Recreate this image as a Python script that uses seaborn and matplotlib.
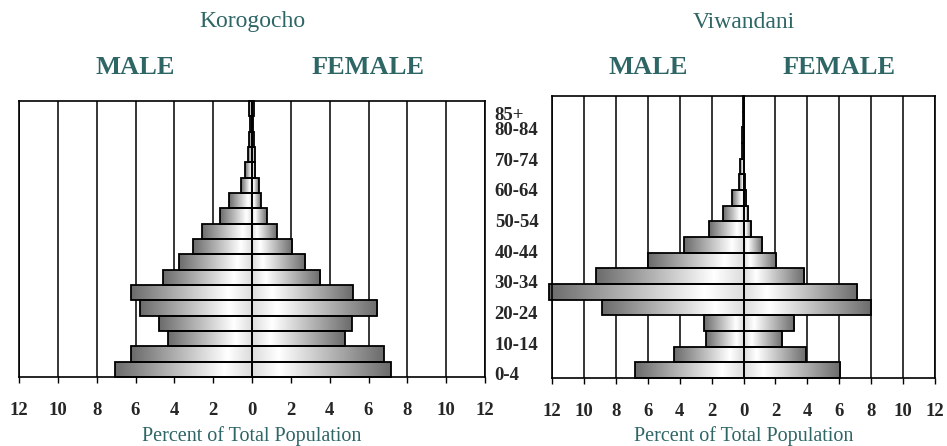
import numpy as np
import pandas as pd
import matplotlib
matplotlib.use("Agg")
import matplotlib.pyplot as plt
import seaborn as sns
from matplotlib.transforms import ScaledTranslation, blended_transform_factory

# ---------------- data ----------------
age_groups = ["0-4", "5-9", "10-14", "15-19", "20-24", "25-29", "30-34", "35-39",
              "40-44", "45-49", "50-54", "55-59", "60-64", "65-69", "70-74",
              "75-79", "80-84", "85+"]
korogocho_male = [7.05, 6.22, 4.33, 4.79, 5.76, 6.24, 4.57, 3.75, 3.04, 2.58,
                  1.65, 1.20, 0.55, 0.38, 0.21, 0.17, 0.12, 0.14]
korogocho_female = [7.15, 6.79, 4.78, 5.15, 6.44, 5.19, 3.52, 2.73, 2.08, 1.27,
                    0.77, 0.46, 0.36, 0.17, 0.14, 0.10, 0.07, 0.10]
viwandani_male = [6.77, 4.33, 2.35, 2.50, 8.85, 12.19, 9.23, 5.96, 3.75, 2.19,
                  1.27, 0.71, 0.31, 0.23, 0.10, 0.08, 0.06, 0.05]
viwandani_female = [6.02, 3.94, 2.42, 3.15, 7.98, 7.13, 3.81, 2.06, 1.19, 0.48,
                    0.29, 0.13, 0.08, 0.04, 0.03, 0.03, 0.02, 0.02]
age_tick_labels = ["0-4", "10-14", "20-24", "30-34", "40-44", "50-54", "60-64",
                   "70-74", "80-84", "85+"]
x_ticks = [-12, -10, -8, -6, -4, -2, 0, 2, 4, 6, 8, 10, 12]
x_tick_labels = ["12", "10", "8", "6", "4", "2", "0", "2", "4", "6", "8", "10", "12"]
panel_titles = ["Korogocho", "Viwandani"]
sex_labels = ["MALE", "FEMALE"]
x_label = "Percent of Total Population"

# ---------------- style ----------------
sns.set_style("white")
plt.rcParams['font.family'] = ['Liberation Serif', 'DejaVu Serif']
TEAL = '#2e6565'

W, H = 947, 446
fig = plt.figure(figsize=(W / 100, H / 100), dpi=100)
ax1 = fig.add_axes([19 / W, (H - 377) / H, 466 / W, 276 / H])
ax2 = fig.add_axes([552 / W, (H - 378) / H, 383 / W, 282 / H])

order = age_groups[::-1]


def gradient_values(n=256):
    t = np.linspace(0, 1, n)  # 0 at the centre end, 1 at the outer end
    return np.interp(t, [0, 0.2, 1.0], [0.86, 1.0, 0.42])


def draw_panel(ax, male, female):
    df = pd.DataFrame({
        "age": age_groups * 2,
        "value": [-m for m in male] + list(female),
        "sex": ["Male"] * len(male) + ["Female"] * len(female),
    })
    sns.barplot(data=df, x="value", y="age", hue="sex", order=order,
                hue_order=["Male", "Female"], dodge=False, width=1.0,
                orient="h", edgecolor="black", linewidth=1.3,
                palette=["white", "white"], legend=False, ax=ax)
    vals = gradient_values()
    for p in list(ax.patches):
        x0, y0 = p.get_x(), p.get_y()
        w, h = p.get_width(), p.get_height()
        if abs(w) < 1e-9:
            continue
        xl, xr = min(x0, x0 + w), max(x0, x0 + w)
        arr = vals[::-1] if xr <= 1e-9 else vals
        img = np.tile(arr, (2, 1))
        im = ax.imshow(img, cmap="gray", vmin=0, vmax=1,
                       extent=[xl, xr, y0 + h, y0], aspect="auto",
                       interpolation="bilinear", zorder=2)
        im.set_clip_path(p)
        p.set_facecolor("none")
        p.set_zorder(3)
        p.set_clip_on(False)

    ax.set_xlim(-12, 12)
    ax.set_ylim(len(order) - 0.5, -0.5)
    ax.set_aspect("auto")
    ax.set_xticks(x_ticks)
    ax.set_xticklabels(x_tick_labels, fontweight="bold")
    ax.grid(axis="x", color="black", linewidth=1.1)
    ax.grid(axis="y", visible=False)
    ax.set_axisbelow(True)
    ax.tick_params(axis="x", direction="out", length=4, width=1,
                   color="black", pad=14, labelsize=13.5, bottom=True)
    for s in ax.spines.values():
        s.set_visible(True)
        s.set_color("black")
        s.set_linewidth(1.2)
    ax.set_xlabel(x_label, color=TEAL, fontsize=14.5)
    ax.xaxis.set_label_coords(0.5, 1 - 436 / H,
                              transform=blended_transform_factory(ax.transAxes, fig.transFigure))
    ax.xaxis.label.set_va("center")
    ax.set_ylabel("")


draw_panel(ax1, korogocho_male, korogocho_female)
draw_panel(ax2, viwandani_male, viwandani_female)

# age labels between the panels
ax1.yaxis.tick_right()
pos = [order.index(a) for a in age_tick_labels]
ax1.set_yticks(pos)
ax1.set_yticklabels(age_tick_labels, fontweight="bold")
ax1.tick_params(axis="y", length=0, pad=7, labelsize=13.5, right=True, left=False)
for lab in ax1.get_yticklabels():
    lab.set_transform(lab.get_transform() + ScaledTranslation(0, -4.5 / 100, fig.dpi_scale_trans))
ax2.set_yticks([])

# titles
for ax, title in zip([ax1, ax2], panel_titles):
    tr = blended_transform_factory(ax.transData, fig.transFigure)
    ax.text(0, 1 - 22 / H, title, transform=tr, ha="center", va="center",
            fontsize=17, color=TEAL)
    ax.text(-6, 1 - 68 / H, sex_labels[0], transform=tr, ha="center", va="center",
            fontsize=19, fontweight="bold", color=TEAL)
    ax.text(6, 1 - 68 / H, sex_labels[1], transform=tr, ha="center", va="center",
            fontsize=19, fontweight="bold", color=TEAL)

fig.savefig("out.png", dpi=100)
